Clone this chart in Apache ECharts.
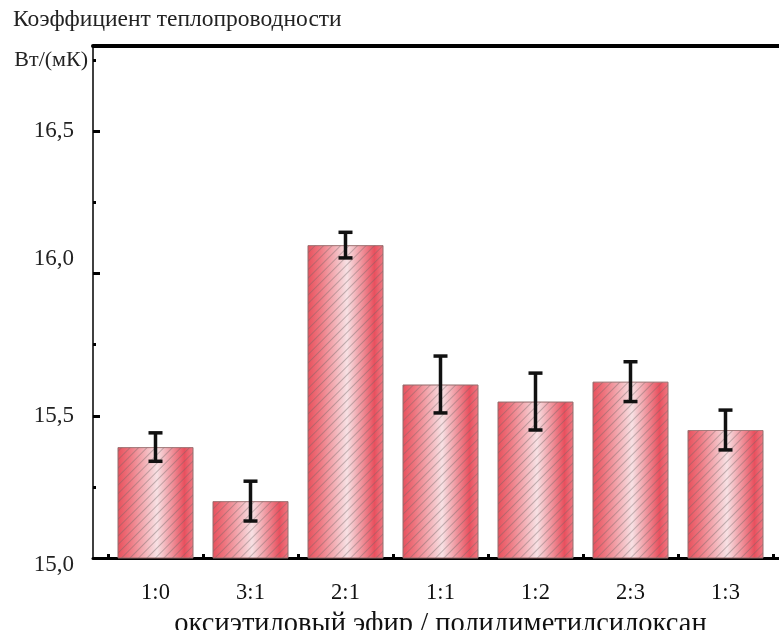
<!DOCTYPE html>
<html>
<head>
<meta charset="utf-8">
<style>
  html, body { margin: 0; padding: 0; background: #fff; }
  #chart { width: 779px; height: 630px; }
</style>
<script src="https://cdn.jsdelivr.net/npm/echarts@6/dist/echarts.min.js"></script>
</head>
<body>
<div id="chart"></div>
<script>
// Thermal conductivity for different ether / PDMS ratios
const categories = ['1:0', '3:1', '2:1', '1:1', '1:2', '2:3', '1:3'];
const conductivity = [15.39, 15.20, 16.10, 15.61, 15.55, 15.62, 15.45];
const errors = [0.05, 0.07, 0.045, 0.10, 0.10, 0.07, 0.07];
const yLabels = { 15: '15,0', 15.5: '15,5', 16: '16,0', 16.5: '16,5' };

const FONT = '"Liberation Serif", "Times New Roman", serif';

const chart = echarts.init(document.getElementById('chart'), null, { renderer: 'canvas' });

const barFill = new echarts.graphic.LinearGradient(0, 0, 1, 0, [
  { offset: 0, color: '#e8505c' },
  { offset: 0.15, color: '#ee737d' },
  { offset: 0.52, color: '#f7e1e4' },
  { offset: 0.88, color: '#e9505e' },
  { offset: 1, color: '#ef7a84' }
]);

const errorData = conductivity.map((v, i) => [i, v - errors[i], v + errors[i]]);

chart.setOption({
  animation: false,
  title: {
    text: 'Коэффициент теплопроводности',
    left: 8,
    top: 3,
    textStyle: { fontFamily: FONT, fontSize: 23.5, fontWeight: 'normal', color: '#222' }
  },
  grid: [
    { left: 108, right: 6, top: 46, bottom: 72, outerBoundsMode: 'none' },
    { left: 93, right: -4, top: 46, bottom: 72, outerBoundsMode: 'none' }
  ],
  xAxis: [
    {
      type: 'category',
      gridIndex: 0,
      data: categories,
      name: 'оксиэтиловый эфир / полидиметилсилоксан',
      nameLocation: 'middle',
      nameGap: 43,
      nameTextStyle: { fontFamily: FONT, fontSize: 28.5, color: '#111' },
      axisLine: { show: false },
      axisTick: { show: true, inside: true, length: 4, lineStyle: { color: '#000', width: 3 } },
      axisLabel: { fontFamily: FONT, fontSize: 22.5, color: '#111', margin: 24 }
    },
    {
      type: 'value', gridIndex: 1, position: 'bottom', min: 0, max: 1,
      axisLine: { show: true, lineStyle: { color: '#000', width: 3 } },
      axisTick: { show: false }, axisLabel: { show: false }, splitLine: { show: false }
    },
    {
      type: 'value', gridIndex: 1, position: 'top', min: 0, max: 1,
      axisLine: { show: true, lineStyle: { color: '#000', width: 4 } },
      axisTick: { show: false }, axisLabel: { show: false }, splitLine: { show: false }
    }
  ],
  yAxis: [
    {
      type: 'value',
      gridIndex: 0,
      min: 15,
      max: 16.8,
      interval: 0.25,
      offset: 15,
      name: 'Вт/(мК)',
      nameLocation: 'end',
      nameGap: -14,
      nameTextStyle: {
        fontFamily: FONT, fontSize: 22, color: '#222',
        align: 'right', verticalAlign: 'middle', padding: [0, 5, 0, 0]
      },
      axisLine: { show: true, lineStyle: { color: '#000', width: 1.5 } },
      axisTick: { show: true, inside: true, length: 3, lineStyle: { color: '#000', width: 3 } },
      axisLabel: {
        fontFamily: FONT, fontSize: 23, color: '#222', margin: 19,
        showMaxLabel: false,
        formatter: v => {
          const t = yLabels[Math.round(v * 100) / 100];
          if (!t) return '';
          if (v === 15) return '{dn|' + t + '}';
          if (v === 16) return '{up|' + t + '}';
          return t;
        },
        rich: {
          dn: { fontFamily: FONT, fontSize: 23, color: '#222', padding: [14, 0, 0, 0] },
          up: { fontFamily: FONT, fontSize: 23, color: '#222', padding: [0, 0, 30, 0] }
        }
      },
      splitLine: { show: false }
    },
    {
      type: 'value',
      gridIndex: 0,
      min: 15,
      max: 16.8,
      interval: 0.5,
      offset: 15,
      position: 'left',
      axisLine: { show: false },
      axisTick: { show: true, inside: true, length: 7, lineStyle: { color: '#000', width: 3 } },
      axisLabel: { show: false },
      splitLine: { show: false }
    },
    {
      type: 'value', gridIndex: 1, min: 0, max: 1, show: false
    }
  ],
  series: [
    {
      type: 'bar',
      xAxisIndex: 0,
      yAxisIndex: 0,
      data: conductivity,
      barWidth: 76,
      itemStyle: {
        color: barFill,
        borderColor: 'rgba(150,110,110,0.6)',
        borderWidth: 1,
        decal: {
          symbol: 'rect',
          symbolSize: 1,
          color: 'rgba(110,100,100,0.4)',
          dashArrayX: [1, 0],
          dashArrayY: [1, 5],
          rotation: -Math.PI / 4
        }
      },
      z: 2
    },
    {
      type: 'custom',
      xAxisIndex: 0,
      yAxisIndex: 0,
      data: errorData,
      z: 5,
      renderItem: (params, api) => {
        const x = api.value(0);
        const lo = api.coord([x, api.value(1)]);
        const hi = api.coord([x, api.value(2)]);
        const hw = 7;
        const st = { stroke: '#111', lineWidth: 3.5 };
        return {
          type: 'group',
          children: [
            { type: 'line', shape: { x1: lo[0], y1: lo[1], x2: hi[0], y2: hi[1] }, style: st },
            { type: 'line', shape: { x1: lo[0] - hw, y1: lo[1], x2: lo[0] + hw, y2: lo[1] }, style: st },
            { type: 'line', shape: { x1: hi[0] - hw, y1: hi[1], x2: hi[0] + hw, y2: hi[1] }, style: st }
          ]
        };
      }
    }
  ]
});
</script>
</body>
</html>
